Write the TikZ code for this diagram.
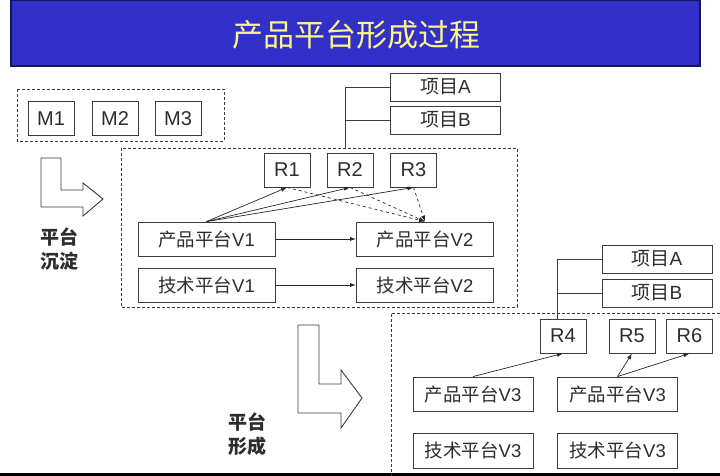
\documentclass[tikz,border=0pt]{standalone}
\usepackage{fontspec}
\setmainfont{Liberation Sans}
\newfontfamily\cjk{Noto Sans CJK SC}
\usepackage{tikz}
\usetikzlibrary{arrows.meta,positioning,calc}
\definecolor{titleblue}{RGB}{50,48,200}
\definecolor{titlenavy}{RGB}{22,22,90}
\definecolor{titleyellow}{RGB}{250,245,140}
\definecolor{boxline}{RGB}{60,60,60}
\definecolor{boxtext}{RGB}{45,45,45}
\newcommand{\zh}[1]{{\cjk #1}}

\begin{document}
\begin{tikzpicture}[x=1pt,y=-1pt,
  every node/.style={font=\fontsize{18.5}{20}\selectfont,text=boxtext},
  bx/.style={draw=boxline,line width=0.9pt,fill=white,inner sep=0pt,minimum height=34pt},
  mb/.style={bx,minimum width=46pt,font=\fontsize{20}{22}\selectfont},
  pb/.style={bx,minimum width=137pt},
  qb/.style={bx,minimum width=120pt},
  xm/.style={bx,minimum width=110pt,minimum height=28pt,font=\fontsize{19}{21}\selectfont},
  fr/.style={draw=boxline,densely dashed,line width=0.8pt},
  ar/.style={-{Latex[length=6pt,width=4pt]},line width=0.7pt,draw=black!85},
  dar/.style={ar,dashed},
  ln/.style={draw=boxline,line width=0.9pt},
  turn/.style={draw=boxline,line width=0.9pt,fill=white},
  tag/.style={align=center,font=\fontsize{19}{24}\selectfont\cjk\bfseries}]
 \useasboundingbox (0,0) rectangle (720,476);
 % title bar
 \fill[titleblue,draw=titlenavy,line width=1.5pt] (11,0) rectangle (700,66);
 \node[text=titleyellow,font=\fontsize{31}{33}\selectfont\cjk] (title) at (356,35) {产品平台形成过程};
 \fill[black] (0,473) rectangle (720,476);
 % dashed frames
 \draw[fr] (17,89) rectangle (224,141);
 \draw[fr] (121,148) rectangle (517,307);
 \draw[fr] (720,313) -- (391,313) -- (391,476);
 % modules
 \node[mb] (m1) at (51,118.5) {M1};
 \node[mb] (m2) at (115,118.5) {M2};
 \node[mb] (m3) at (178,118.5) {M3};
 % first stage
 \node[mb] (r1) at (287,170) {R1};
 \node[mb] (r2) at (350,170) {R2};
 \node[mb] (r3) at (413.5,170) {R3};
 \node[xm] (pa1) at (445.5,87) {\zh{项目}A};
 \node[xm] (pb1) at (445.5,120) {\zh{项目}B};
 \node[pb] (pv1) at (206.5,239) {\zh{产品平台}V1};
 \node[pb] (tv1) at (206.5,285) {\zh{技术平台}V1};
 \node[pb] (pv2) at (425,239) {\zh{产品平台}V2};
 \node[pb] (tv2) at (425,285) {\zh{技术平台}V2};
 \coordinate (t1) at (345,148);
 \draw[ln] (t1) |- (pa1.west);
 \draw[ln] (t1 |- pb1.west) -- (pb1.west);
 \foreach \r in {r1,r2,r3}
   \draw[ar] (pv1.north) -- (\r.south);
 \foreach \r in {r1,r2,r3}
   \draw[dar] (\r.south) -- (pv2.north);
 \draw[ar] (pv1) -- (pv2);
 \draw[ar] (tv1) -- (tv2);
 % second stage
 \node[mb] (r4) at (563,336) {R4};
 \node[mb] (r5) at (632,336) {R5};
 \node[mb] (r6) at (689.5,336) {R6};
 \node[xm] (pa2) at (657,259) {\zh{项目}A};
 \node[xm] (pb2) at (657,293) {\zh{项目}B};
 \node[qb] (pv3a) at (473,394) {\zh{产品平台}V3};
 \node[qb] (pv3b) at (617.5,394) {\zh{产品平台}V3};
 \node[qb,minimum height=35pt] (tv3a) at (473,450.5) {\zh{技术平台}V3};
 \node[qb,minimum height=35pt] (tv3b) at (617.5,450.5) {\zh{技术平台}V3};
 \coordinate (t2) at ([xshift=-6pt]r4.north);
 \draw[ln] (t2) |- (pa2.west);
 \draw[ln] (t2 |- pb2.west) -- (pb2.west);
 \draw[ar] (pv3a.north) -- (r4.south);
 \draw[ar] (pv3b.north) -- (r5.south);
 \draw[ar] (pv3b.north) -- (r6.south);
 % turning arrows
 \draw[turn] (41,158) -- (61,158) -- (61,190) -- (83,190) -- (83,183) -- (103,199)
   -- (83,216) -- (83,207) -- (41,207) -- cycle;
 \node[tag] (settle) at (59,249) {平台\\沉淀};
 \draw[turn] (298,325) -- (319,325) -- (319,384) -- (341,384) -- (341,370) -- (362,398)
   -- (341,428) -- (341,413) -- (298,413) -- cycle;
 \node[tag] (form) at (247.5,434) {平台\\形成};
\end{tikzpicture}
\end{document}
